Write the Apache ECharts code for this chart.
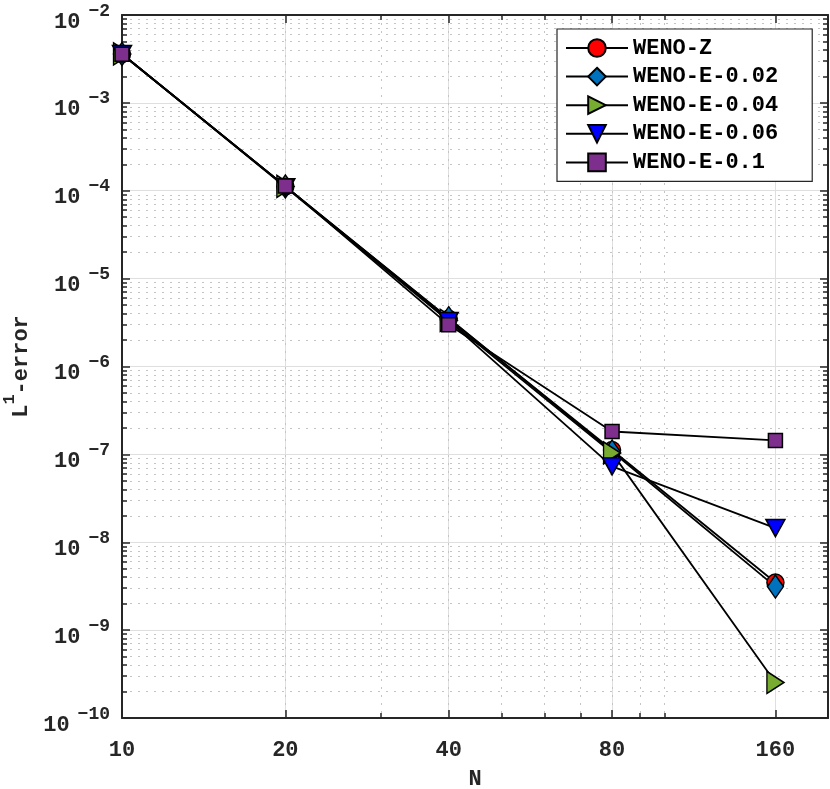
<!DOCTYPE html>
<html>
<head>
<meta charset="utf-8">
<script src="https://cdn.jsdelivr.net/npm/echarts@6/dist/echarts.min.js"></script>
<style>
  html, body { margin: 0; padding: 0; background: #fff; }
  #chart { width: 830px; height: 789px; }
</style>
</head>
<body>
<div id="chart"></div>
<script>
// grid resolution N
const nValues = [10, 20, 40, 80, 160];

// L1 errors
const wenoZ   = [3.6e-3, 1.12e-4, 3.5e-6, 1.12e-7, 3.48e-9];
const wenoE02 = [3.6e-3, 1.12e-4, 3.55e-6, 1.08e-7, 3.13e-9];
const wenoE04 = [3.6e-3, 1.12e-4, 3.35e-6, 1.04e-7, 2.54e-10];
const wenoE06 = [3.6e-3, 1.1e-4, 3.3e-6, 7.3e-8, 1.45e-8];
const wenoE10 = [3.58e-3, 1.13e-4, 2.98e-6, 1.82e-7, 1.44e-7];

// ticks
const xMajor = [10, 20, 40, 80, 160];
const xMinor = [20, 30, 40, 50, 60, 70, 80, 90, 100, 200];
const yMajor = [1e-10, 1e-9, 1e-8, 1e-7, 1e-6, 1e-5, 1e-4, 1e-3, 1e-2];
const yMinor = [];
for (let e = -10; e < -2; e++) {
  for (let m = 2; m <= 9; m++) yMinor.push(m * Math.pow(10, e));
}

const FONT = 'Liberation Mono';
const AX = '#262626';

function pairs(ys) {
  return nValues.map((n, i) => [n, ys[i]]);
}

const chart = echarts.init(document.getElementById('chart'));

function xAx(pos, custom, major, withLabel) {
  return {
    type: 'log', logBase: 10, min: 10, max: 200, position: pos,
    axisLine: { show: major, lineStyle: { color: AX, width: 2 } },
    axisTick: { show: true, inside: true, length: major ? 8 : 5, customValues: custom,
      lineStyle: { color: AX, width: 1.5 } },
    axisLabel: withLabel ? {
      customValues: custom, margin: 21, color: AX,
      fontFamily: FONT, fontWeight: 'bold', fontSize: 22,
      formatter: v => String(Math.round(v))
    } : { show: false },
    splitLine: withLabel || (!major && pos === 'bottom') ? {
      show: true,
      lineStyle: major ? { color: '#dfdfdf', width: 1 } : { color: '#c4c4c4', width: 1, type: [2, 6] }
    } : { show: false },
    minorTick: { show: false }, minorSplitLine: { show: false }
  };
}

function yAx(pos, custom, major, withLabel) {
  return {
    type: 'log', logBase: 10, min: 1e-10, max: 1e-2, position: pos,
    axisLine: { show: major, lineStyle: { color: AX, width: 2 } },
    axisTick: { show: true, inside: true, length: major ? 8 : 5, customValues: custom,
      lineStyle: { color: AX, width: 1.5 } },
    axisLabel: withLabel ? {
      customValues: custom, margin: 12, color: AX,
      formatter: v => '{b|10}{s|−' + Math.round(-Math.log10(v)) + '}',
      rich: {
        b: { fontFamily: FONT, fontWeight: 'bold', fontSize: 22, lineHeight: 22, padding: [14, 0, 0, 0], color: AX },
        s: { fontFamily: FONT, fontWeight: 'bold', fontSize: 18, lineHeight: 18, padding: [0, 0, 8, 8], color: AX }
      }
    } : { show: false },
    splitLine: withLabel || (!major && pos === 'left') ? {
      show: true,
      lineStyle: major ? { color: '#dfdfdf', width: 1 } : { color: '#c4c4c4', width: 1, type: [2, 6] }
    } : { show: false },
    minorTick: { show: false }, minorSplitLine: { show: false }
  };
}

const xAxes = [
  xAx('bottom', xMajor, true, true),
  xAx('bottom', xMinor, false, false),
  xAx('top', xMajor, true, false),
  xAx('top', xMinor, false, false)
];
xAxes[0].name = 'N';
xAxes[0].nameLocation = 'middle';
xAxes[0].nameGap = 50;
xAxes[0].nameTextStyle = { fontFamily: FONT, fontWeight: 'bold', fontSize: 22, color: AX };

const yAxes = [
  yAx('left', yMajor, true, true),
  yAx('left', yMinor, false, false),
  yAx('right', yMajor, true, false),
  yAx('right', yMinor, false, false)
];
yAxes[0].name = '{n|L}{u|1}{n|-error}';
yAxes[0].nameLocation = 'middle';
yAxes[0].nameGap = 96;
yAxes[0].nameTextStyle = {
  rich: {
    n: { fontFamily: FONT, fontWeight: 'bold', fontSize: 22, lineHeight: 22, padding: [12, 0, 0, 0], color: AX },
    u: { fontFamily: FONT, fontWeight: 'bold', fontSize: 17, lineHeight: 17, padding: [0, 0, 10, 0], color: AX }
  }
};

function mkSeries(name, ys, color, symbol, size, rotate) {
  return {
    name: name, type: 'line', data: pairs(ys),
    xAxisIndex: 0, yAxisIndex: 0,
    symbol: symbol, symbolSize: size, symbolRotate: rotate || 0,
    showAllSymbol: true, clip: false,
    lineStyle: { color: '#000', width: 1.8 },
    itemStyle: { color: color, borderColor: '#000', borderWidth: 1.5 },
    emphasis: { disabled: true }
  };
}

const option = {
  animation: false,
  backgroundColor: '#fff',
  grid: { left: 122, right: 2, top: 15, bottom: 71, outerBoundsMode: 'none', containLabel: false },
  legend: {
    orient: 'vertical', left: 557, top: 29,
    padding: [8, 34, 8, 8], itemGap: 6.6,
    itemWidth: 62, itemHeight: 22,
    backgroundColor: '#fff', borderColor: AX, borderWidth: 1.2, borderRadius: 0,
    textStyle: { fontFamily: FONT, fontWeight: 'bold', fontSize: 22, color: '#000' },
    data: ['WENO-Z', 'WENO-E-0.02', 'WENO-E-0.04', 'WENO-E-0.06', 'WENO-E-0.1']
  },
  xAxis: xAxes,
  yAxis: yAxes,
  series: [
    mkSeries('WENO-Z', wenoZ, '#ff0000', 'circle', 17),
    mkSeries('WENO-E-0.02', wenoE02, '#0072bd', 'diamond', [16, 23]),
    mkSeries('WENO-E-0.04', wenoE04, '#77ac30', 'triangle', [22, 17], -90),
    mkSeries('WENO-E-0.06', wenoE06, '#0000ff', 'triangle', [19, 17], 180),
    mkSeries('WENO-E-0.1', wenoE10, '#7e2f8e', 'rect', 14)
  ]
};

chart.setOption(option);
</script>
</body>
</html>
